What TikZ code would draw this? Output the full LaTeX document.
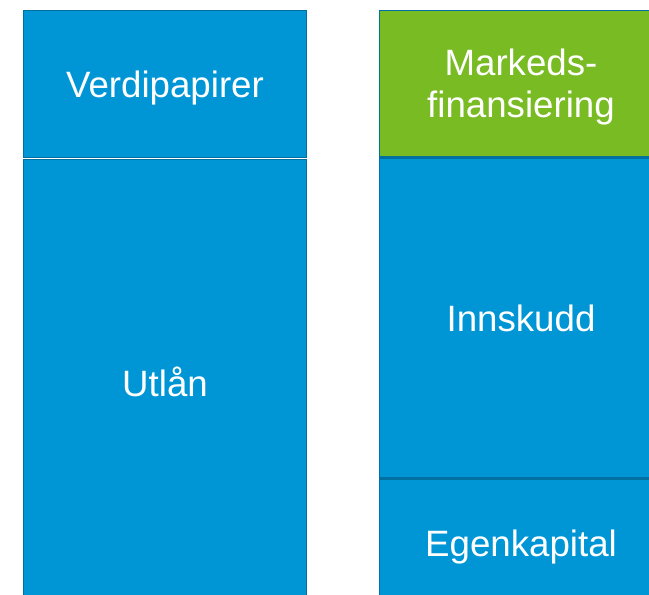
\documentclass[tikz,border=0pt]{standalone}
\usepackage{fontspec}
\setmainfont{Liberation Sans}
\usetikzlibrary{positioning}
\definecolor{balblue}{RGB}{0,150,214}
\definecolor{balgreen}{RGB}{120,187,34}
\definecolor{balline}{RGB}{0,112,160}
\tikzstyle{post}=[rectangle, draw=balline, fill=balblue, line width=1pt, inner sep=0pt, text=white, align=center, text depth=0pt, font=\fontsize{27.5}{31.5}\selectfont, minimum width=212pt]
\tikzstyle{gpost}=[post, fill=balgreen]

\begin{document}
\begin{tikzpicture}[x=0.75pt, y=-0.75pt]
\useasboundingbox (0,0) rectangle (649,594);
\clip (0,0) rectangle (649,594);
% eiendeler
\node[post, minimum height=110pt, anchor=north west] (verdi) at (23,10) {Verdipapirer};
\node[post, minimum height=333pt, below=0.75pt of verdi] (utlan) {Utlån};
% gjeld og egenkapital
\node[gpost, minimum height=109.5pt, anchor=north west] (marked) at (379,10) {Markeds-\\finansiering};
\node[post, minimum height=240pt, below=0pt of marked] (innskudd) {Innskudd};
\node[post, minimum height=96pt, below=0pt of innskudd] (egen) {Egenkapital};
\end{tikzpicture}
\end{document}
